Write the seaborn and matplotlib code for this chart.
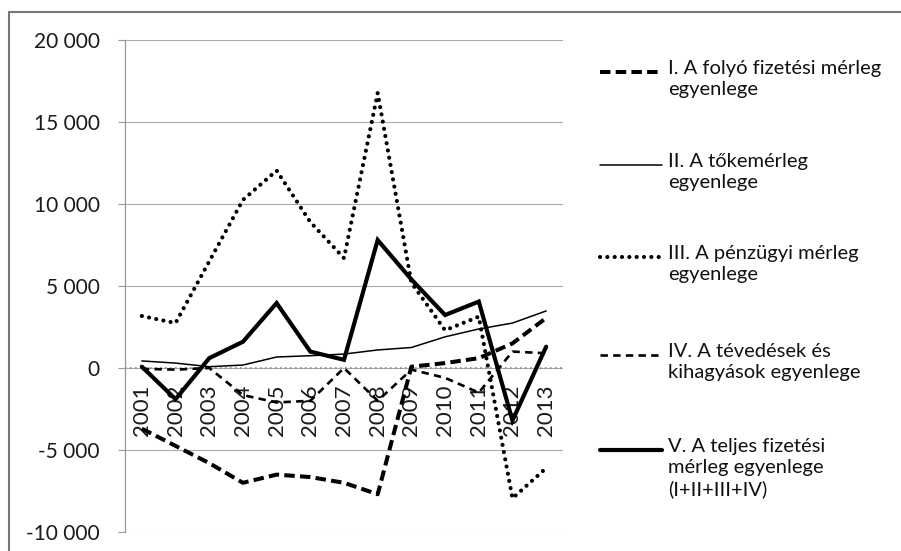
import matplotlib
matplotlib.use("Agg")
import matplotlib.pyplot as plt
import seaborn as sns
import pandas as pd
from matplotlib.lines import Line2D
from matplotlib.ticker import FuncFormatter

# ---------------- data ----------------
years = ["2001", "2002", "2003", "2004", "2005", "2006", "2007",
         "2008", "2009", "2010", "2011", "2012", "2013"]
folyo = [-3700, -4750, -5800, -7000, -6500, -6650, -7000, -7700, 80, 300, 600, 1500, 3050]
toke = [430, 300, 80, 180, 670, 750, 850, 1100, 1250, 1900, 2380, 2740, 3480]
penzugyi = [3170, 2740, 6500, 10250, 12040, 8900, 6700, 16770, 5200, 2300, 3130, -7950, -6100]
tevedes = [-50, -100, 0, -1650, -2100, -2000, 0, -2000, -100, -600, -1500, 1000, 900]
teljes = [80, -1900, 600, 1600, 3960, 1000, 500, 7800, 5400, 3230, 4050, -3200, 1300]

labels = [
    "I. A folyó fizetési mérleg\negyenlege",
    "II. A tőkemérleg\negyenlege",
    "III. A pénzügyi mérleg\negyenlege",
    "IV. A tévedések és\nkihagyások egyenlege",
    "V. A teljes fizetési\nmérleg egyenlege\n(I+II+III+IV)",
]
yticks = [-10000, -5000, 0, 5000, 10000, 15000, 20000]

# ---------------- style ----------------
sns.set_theme(style="white")
plt.rcParams['font.family'] = ['Lato', 'DejaVu Sans']

W, H = 901, 551
fig = plt.figure(figsize=(W / 100, H / 100), dpi=100)
fig.patch.set_facecolor("white")
ax = fig.add_axes([125 / W, 1 - 532 / H, (563 - 125) / W, (532 - 40) / H])

pos = list(range(len(years)))
df = pd.DataFrame({"pos": pos, "I": folyo, "II": toke, "III": penzugyi,
                   "IV": tevedes, "V": teljes})

styles = {
    "I": dict(lw=2.9, ls=(0, (2.6, 1.3)), cap="butt"),
    "II": dict(lw=1.1, ls="-", cap="butt"),
    "III": dict(lw=3.0, ls=(0, (0.01, 1.75)), cap="round"),
    "IV": dict(lw=1.9, ls=(0, (2.8, 2.0)), cap="butt"),
    "V": dict(lw=3.0, ls="-", cap="butt"),
}

# x axis crossing at zero (set before tick labels, it resets ticks)
ax.spines["bottom"].set_position(("data", 0))
ax.spines["bottom"].set_visible(False)

# zero line (dotted gray)
ax.axhline(0, color="#888888", lw=1.2, ls=(0, (1, 2)), zorder=1)

for key in ["II", "IV", "I", "III", "V"]:
    st = styles[key]
    sns.lineplot(data=df, x="pos", y=key, ax=ax, color="black",
                 linewidth=st["lw"], linestyle=st["ls"],
                 dash_capstyle=st["cap"], solid_joinstyle="miter", zorder=3)

ax.set_xlim(-0.5, len(years) - 0.5)
ax.set_ylim(-10000, 20000)
ax.set_yticks(yticks)
ax.yaxis.set_major_formatter(FuncFormatter(lambda v, p: f"{int(v):,}".replace(",", " ")))
ax.set_xticks(pos)
ax.set_xticklabels(years, rotation=90, fontsize=16, color="#1a1a1a")
ax.set_xlabel("")
ax.set_ylabel("")

ax.grid(axis="y", color="#aaaaaa", lw=0.8)
ax.grid(axis="x", visible=False)
ax.set_axisbelow(True)
ax.spines["top"].set_visible(False)
ax.spines["right"].set_visible(False)
ax.spines["left"].set_color("#999999")
ax.spines["left"].set_linewidth(0.9)
ax.tick_params(axis="x", length=0, pad=12, labelrotation=90)
ax.tick_params(axis="y", length=5, width=0.8, color="#999999", pad=13,
               labelsize=15, labelcolor="#1a1a1a", left=True)

# ---------------- legend ----------------
legend_y = [72, 165, 257, 355, 450]
order = ["I", "II", "III", "IV", "V"]
for key, lab, yy in zip(order, labels, legend_y):
    st = styles[key]
    fy = 1 - yy / H
    fig.add_artist(Line2D([600 / W, 662 / W], [fy, fy], transform=fig.transFigure,
                          color="black", lw=st["lw"], ls=st["ls"],
                          dash_capstyle=st["cap"]))
    fig.text(668 / W, 1 - (yy - 12) / H, lab, fontsize=14.5, color="#111111",
             va="top", ha="left", linespacing=1.3)

# ---------------- outer frame ----------------
fig.add_artist(Line2D([9 / W, 9 / W], [1 - 12 / H, 0], transform=fig.transFigure,
                      color="#777777", lw=1.5))
fig.add_artist(Line2D([9 / W, 1], [1 - 12 / H, 1 - 12 / H], transform=fig.transFigure,
                      color="#777777", lw=1.5))

fig.savefig("out.png", dpi=100)
